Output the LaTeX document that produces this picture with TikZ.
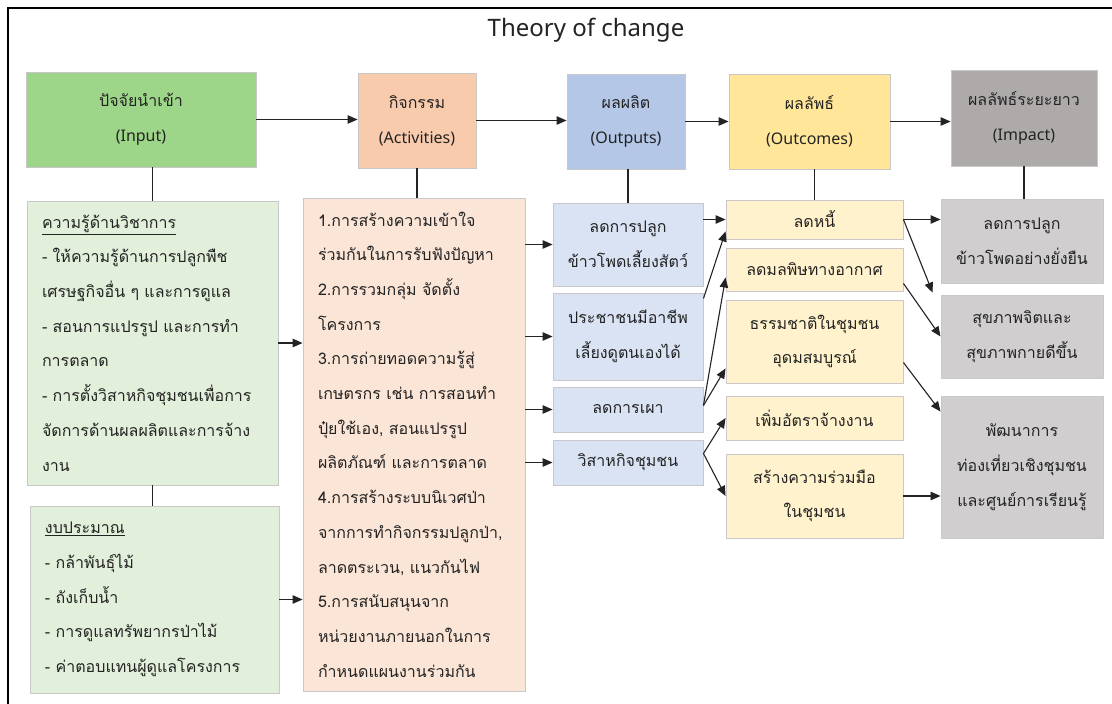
\documentclass[tikz,border=0pt]{standalone}
\usepackage{fontspec}
\usepackage{tikz}
\usetikzlibrary{arrows.meta, positioning, calc}
\newfontfamily\thaifont[Script=Thai]{Loma}
\newfontfamily\latinfont{Noto Sans}
\definecolor{tocgreen}{RGB}{157,213,137}
\definecolor{tocgreenlt}{RGB}{226,239,218}
\definecolor{tocorange}{RGB}{248,203,173}
\definecolor{tocorangelt}{RGB}{251,229,214}
\definecolor{tocblue}{RGB}{180,199,231}
\definecolor{tocbluelt}{RGB}{218,227,243}
\definecolor{tocyellow}{RGB}{255,230,153}
\definecolor{tocyellowlt}{RGB}{255,242,204}
\definecolor{tocgray}{RGB}{174,170,170}
\definecolor{tocgraylt}{RGB}{208,206,206}
\definecolor{tocborder}{RGB}{200,200,200}
\definecolor{tocink}{RGB}{35,35,35}

\begin{document}
\begin{tikzpicture}[x=1pt, y=-1pt,
  box/.style={draw=tocborder, line width=0.9pt, inner sep=0pt, text=tocink,
    align=center, font=\thaifont\fontsize{16}{34.7}\selectfont},
  listbox/.style={box, align=left, inner xsep=15pt},
  link/.style={draw=tocink, line width=1.1pt, -{Triangle[length=10pt,width=8.5pt]}},
  stem/.style={draw=tocink, line width=1.1pt}]
\useasboundingbox (0,0) rectangle (1112,704);
\fill[white] (0,0) rectangle (1112,704);
% outer frame
\draw[line width=1.6pt] (1112,8) -- (8,8) -- (8,704);
\node[font=\latinfont\fontsize{24}{28}\selectfont, text=tocink] (title) at (586,30) {Theory of change};

% ---- header row ----
\node[box, fill=tocgreen, minimum width=230, minimum height=95] (inhead) at (141,119.5)
  {ปัจจัยนำเข้า\\{\latinfont (Input)}};
\node[box, fill=tocorange, minimum width=118, minimum height=95] (acthead) at (417,120.5)
  {กิจกรรม\\{\latinfont (Activities)}};
\node[box, fill=tocblue, minimum width=118, minimum height=95] (outhead) at (626,121.5)
  {ผลผลิต\\{\latinfont (Outputs)}};
\node[box, fill=tocyellow, minimum width=161, minimum height=95] (ochead) at (809.5,121.5)
  {ผลลัพธ์\\{\latinfont (Outcomes)}};
\node[box, fill=tocgray, minimum width=146, minimum height=96] (imhead) at (1024,118)
  {ผลลัพธ์ระยะยาว\\{\latinfont (Impact)}};
\foreach \a/\b in {inhead/acthead, acthead/outhead, outhead/ochead, ochead/imhead}
  \draw[link] (\a.east) -- (\a.east -| \b.west);

% ---- inputs ----
\node[listbox, fill=tocgreenlt, text width=221, minimum height=284] (know) at (152.5,343)
  {\underline{ความรู้ด้านวิชาการ}\\- ให้ความรู้ด้านการปลูกพืช\\เศรษฐกิจอื่น ๆ และการดูแล\\- สอนการแปรรูป และการทำ\\การตลาด\\- การตั้งวิสาหกิจชุมชนเพื่อการ\\จัดการด้านผลผลิตและการจ้าง\\งาน};
\node[listbox, fill=tocgreenlt, text width=219, minimum height=187] (budget) at (154.5,599.5)
  {\underline{งบประมาณ}\\- กล้าพันธุ์ไม้\\- ถังเก็บน้ำ\\- การดูแลทรัพยากรป่าไม้\\- ค่าตอบแทนผู้ดูแลโครงการ};

% ---- activities ----
\node[listbox, fill=tocorangelt, text width=192, minimum height=493] (acts) at (414,444.5)
  {1.การสร้างความเข้าใจ\\ร่วมกันในการรับฟังปัญหา\\2.การรวมกลุ่ม จัดตั้ง\\โครงการ\\3.การถ่ายทอดความรู้สู่\\เกษตรกร เช่น การสอนทำ\\ปุ๋ยใช้เอง, สอนแปรรูป\\ผลิตภัณฑ์ และการตลาด\\4.การสร้างระบบนิเวศป่า\\จากการทำกิจกรรมปลูกป่า,\\ลาดตระเวน, แนวกันไฟ\\5.การสนับสนุนจาก\\หน่วยงานภายนอกในการ\\กำหนดแผนงานร่วมกัน};

% ---- outputs ----
\node[box, fill=tocbluelt, minimum width=150, minimum height=83] (out1) at (628,244.5) {ลดการปลูก\\ข้าวโพดเลี้ยงสัตว์};
\node[box, fill=tocbluelt, minimum width=150, minimum height=87] (out2) at (628,336.5) {ประชาชนมีอาชีพ\\เลี้ยงดูตนเองได้};
\node[box, fill=tocbluelt, minimum width=150, minimum height=45] (out3) at (628,409.5) {ลดการเผา};
\node[box, fill=tocbluelt, minimum width=150, minimum height=45] (out4) at (628,462.5) {วิสาหกิจชุมชน};

% ---- outcomes ----
\node[box, fill=tocyellowlt, minimum width=177, minimum height=39] (oc1) at (814.5,219.5) {ลดหนี้};
\node[box, fill=tocyellowlt, minimum width=177, minimum height=43] (oc2) at (814.5,269.5) {ลดมลพิษทางอากาศ};
\node[box, fill=tocyellowlt, minimum width=177, minimum height=83] (oc3) at (814.5,341.5) {ธรรมชาติในชุมชน\\อุดมสมบูรณ์};
\node[box, fill=tocyellowlt, minimum width=177, minimum height=44] (oc4) at (814.5,418) {เพิ่มอัตราจ้างงาน};
\node[box, fill=tocyellowlt, minimum width=177, minimum height=84] (oc5) at (814.5,496) {สร้างความร่วมมือ\\ในชุมชน};

% ---- impact ----
\node[box, fill=tocgraylt, minimum width=162, minimum height=84] (im1) at (1022,241) {ลดการปลูก\\ข้าวโพดอย่างยั่งยืน};
\node[box, fill=tocgraylt, minimum width=162, minimum height=83] (im2) at (1022,336.5) {สุขภาพจิตและ\\สุขภาพกายดีขึ้น};
\node[box, fill=tocgraylt, minimum width=162, minimum height=142] (im3) at (1022,467) {พัฒนาการ\\ท่องเที่ยวเชิงชุมชน\\และศูนย์การเรียนรู้};

% stems from headers
\draw[stem] (inhead.south -| know.north) -- (know.north);
\draw[stem] (know.south) -- (know.south |- budget.north);
\draw[stem] (acthead.south) -- (acthead.south |- acts.north);
\draw[stem] (outhead.south -| out1.north) -- (out1.north);
\draw[stem] (ochead.south -| oc1.north) -- (oc1.north);
\draw[stem] (imhead.south) -- (imhead.south |- im1.north);

% inputs -> activities -> outputs
\draw[link] (know.east) -- (know.east -| acts.west);
\draw[link] (budget.east) -- (budget.east -| acts.west);
\foreach \o in {out1, out2, out3, out4}
  \draw[link] (acts.east |- \o.west) -- (\o.west);

% outputs -> outcomes
\draw[link] (out1.east |- oc1.west) -- (oc1.west);
\draw[link] ([yshift=-6pt]out2.north east) -- ([yshift=8pt]oc1.south west);
\draw[link] ([yshift=4pt]out3.east) -- ([yshift=-8pt]oc2.west);
\draw[link] ([yshift=4pt]out3.east) -- ([yshift=15pt]oc3.south west);
\draw[link] ([yshift=9pt]out4.east) -- (oc4.west);
\draw[link] ([yshift=9pt]out4.east) -- (oc5.west);

% outcomes -> impact
\draw[link] (oc1.east) -- (oc1.east -| im1.west);
\draw[link] (oc1.east) -- ([xshift=-8pt,yshift=2pt]im2.north west);
\draw[link] ([yshift=8pt]oc2.south east) -- (im2.west);
\draw[link] ([yshift=-21pt]oc3.east) -- ([yshift=-16pt]im3.north west);
\draw[link] (oc5.east) -- (oc5.east -| im3.west);
\end{tikzpicture}
\end{document}
